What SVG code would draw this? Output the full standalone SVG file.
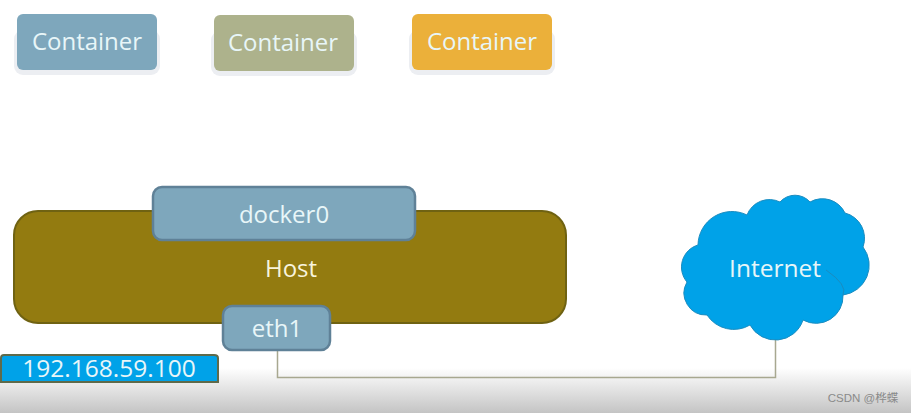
<svg xmlns="http://www.w3.org/2000/svg" width="911" height="413" viewBox="0 0 911 413">
<style>
text{font-family:"Open Sans","Noto Sans","Liberation Sans",sans-serif;font-size:24px;text-anchor:middle;fill:#e8f6f8}
.shadow{fill:#eceef2}
.blue{fill:#7ea7bc}
.b{stroke:#5f8197;stroke-width:2.5}
</style>
<defs>
<linearGradient id="bottom" x1="0" y1="0" x2="0" y2="1"><stop offset="0" stop-color="#fff"/><stop offset="1" stop-color="#c4c4c4"/></linearGradient>
</defs>
<rect width="911" height="413" fill="#fff"/>
<rect id="fade" y="368" width="911" height="45" fill="url(#bottom)"/>
<g id="connectors"><path d="M277.500 350V377.500H775.500V340" fill="none" stroke="#a8a890" stroke-width="1.500"/></g>
<g id="container1"><rect class="shadow" x="14" y="30" width="146" height="45" rx="9"/><rect class="blue" x="17" y="14" width="140" height="56" rx="6"/><text x="87" y="50">Container</text></g>
<g id="container2"><rect class="shadow" x="211" y="31" width="146" height="45" rx="9"/><rect x="214" y="15" width="140" height="56" rx="6" fill="#adb28c"/><text x="283" y="51">Container</text></g>
<g id="container3"><rect class="shadow" x="409" y="30" width="146" height="45" rx="9"/><rect x="412" y="14" width="140" height="56" rx="6" fill="#ebb03a"/><text x="482" y="50">Container</text></g>
<g id="host"><rect x="14" y="211" width="552" height="112" rx="24" fill="#937b10" stroke="#6f6212" stroke-width="2"/><text x="291" y="277" style="fill:#f8f4dc">Host</text></g>
<g id="docker0"><rect class="blue b" x="153" y="187" width="262" height="53" rx="9"/><text x="284" y="223">docker0</text></g>
<g id="eth1"><rect class="blue b" x="223" y="306" width="107" height="44" rx="9"/><text x="277" y="337">eth1</text></g>
<g id="ip"><path d="M1 382V358Q1 355 4 355H214Q218 355 218 358V382Z" fill="#00a2e8" stroke="#5f6a4a" stroke-width="2"/><text x="109" y="377" style="font-size:24.500px">192.168.59.100</text></g>
<g id="internet"><path d="M698 245A34 34 0 0 1 747 215A24 24 0 0 1 780 202A20 20 0 0 1 810 202A25 25 0 0 1 845 213A26 26 0 0 1 863 247A30 30 0 0 1 843 295A27 27 0 0 1 803 320A29 29 0 0 1 750 325A32 32 0 0 1 707 315A22 22 0 0 1 687 282A23 23 0 0 1 698 245Z" fill="#00a2e8" stroke="#1a8cc0" stroke-width="1"/><path d="M826 270Q848 285 843 295" fill="none" stroke="#1a8cc0"/><text x="775" y="277" style="font-size:24.500px">Internet</text></g>
<text x="863" y="402" style="font-size:11.500px;fill:#8a8a8a;font-family:'Liberation Sans','Noto Sans CJK SC',sans-serif">CSDN @桦蝶</text>
</svg>
